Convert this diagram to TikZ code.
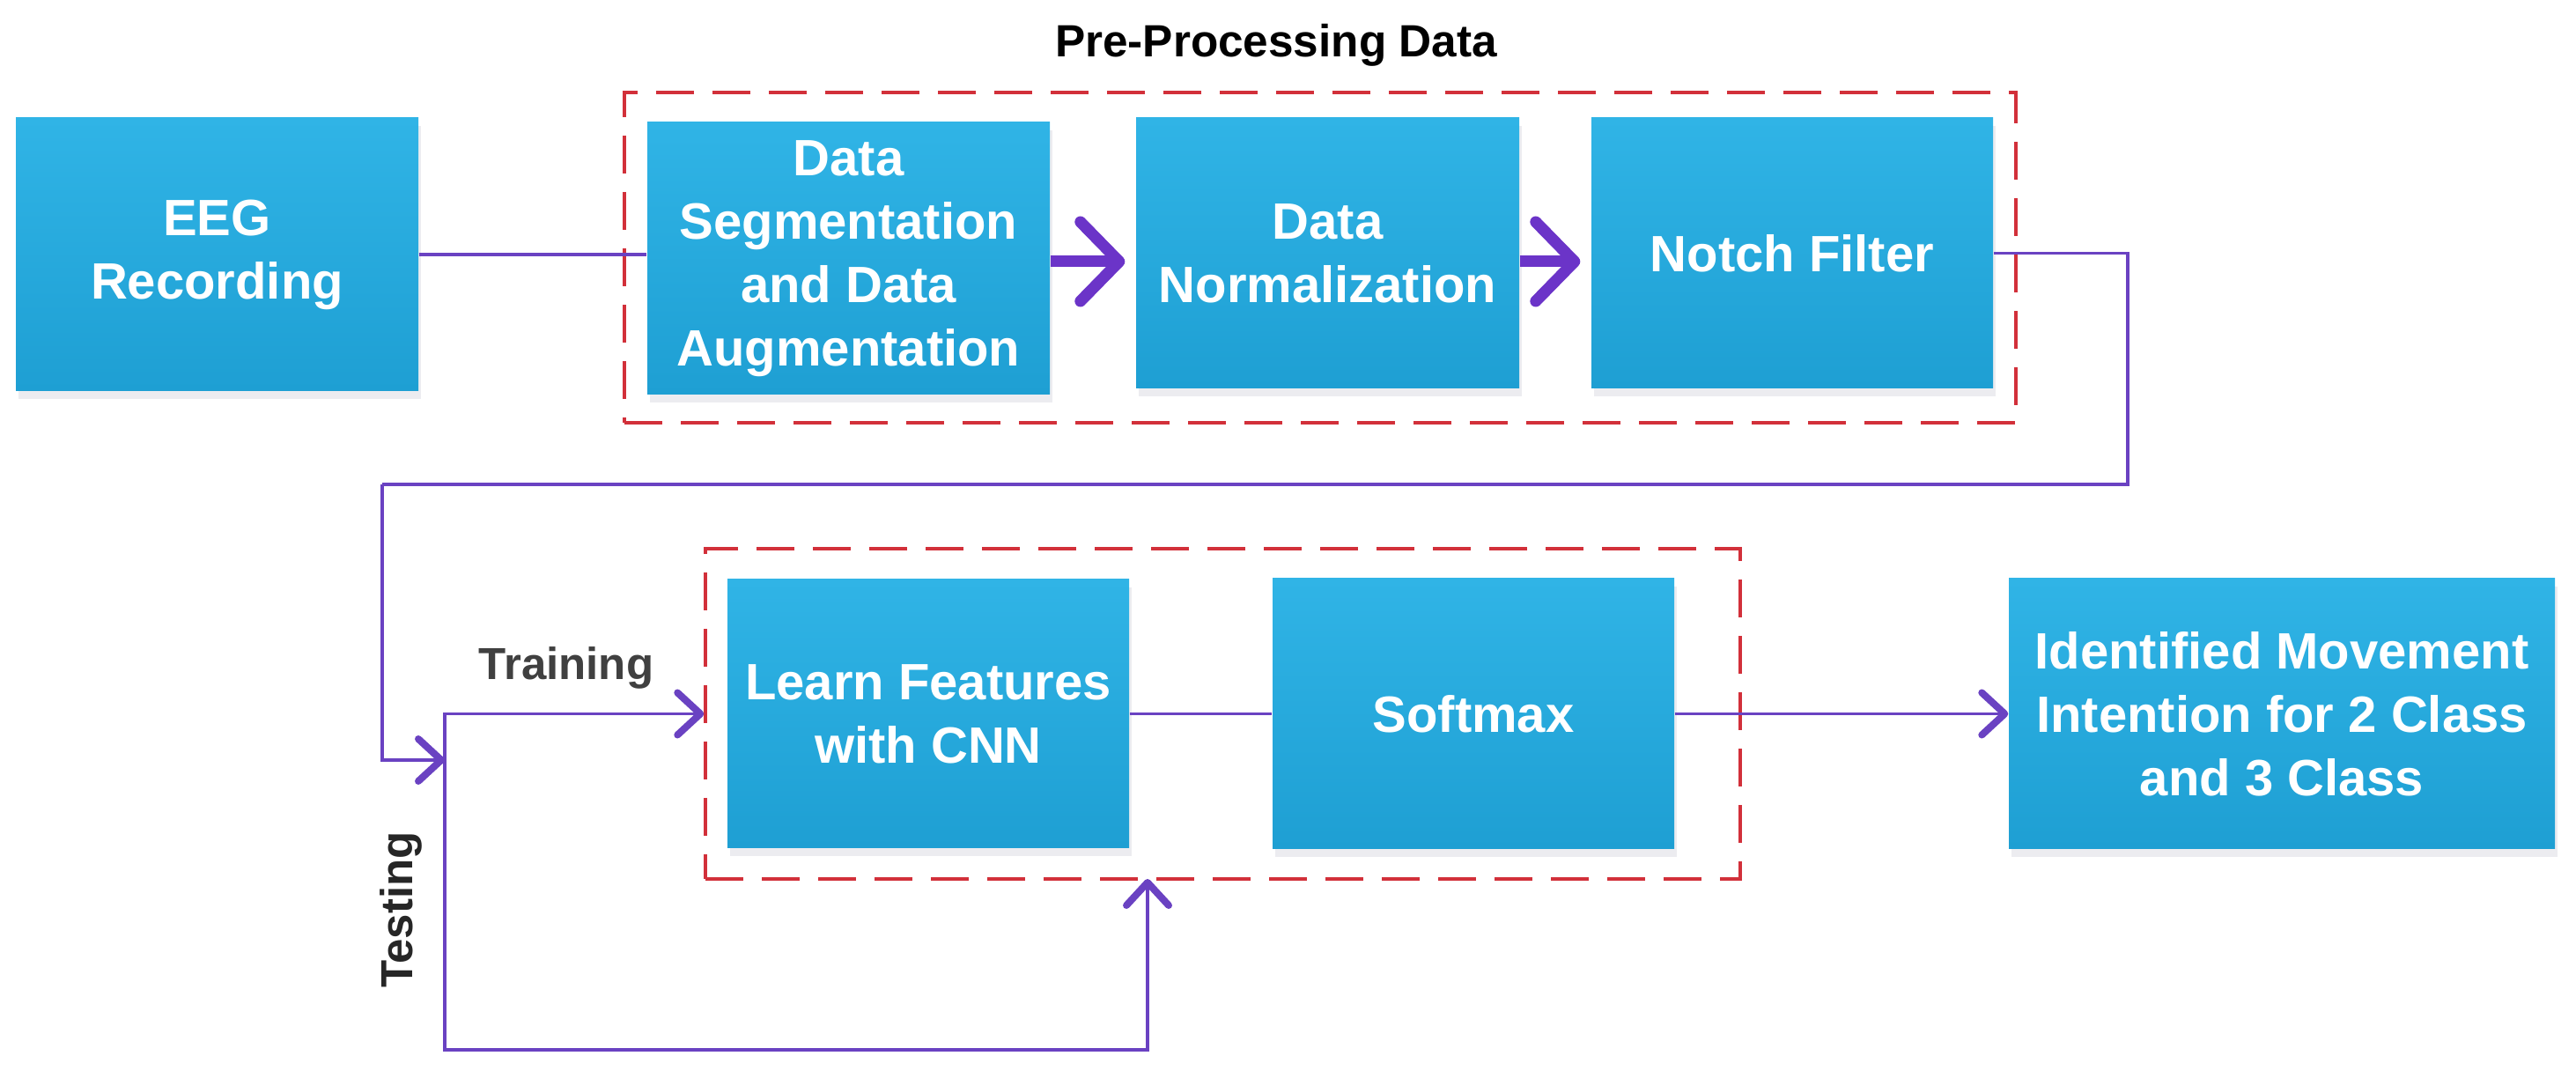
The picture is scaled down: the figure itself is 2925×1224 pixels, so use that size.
\documentclass[tikz,border=0pt]{standalone}
\usepackage{fontspec}
\setmainfont{Liberation Sans}
\usetikzlibrary{arrows.meta,shadows}
\definecolor{boxtop}{HTML}{30B4E6}
\definecolor{boxbot}{HTML}{1E9FD3}
\definecolor{lnpurple}{HTML}{6A42C2}
\definecolor{thkpurple}{HTML}{6B34C8}
\definecolor{dashred}{HTML}{D2303A}
\definecolor{lblgray}{HTML}{404040}
\begin{document}
\begin{tikzpicture}[x=0.1mm,y=-0.1mm,
  blk/.style={rectangle, inner sep=0pt, top color=boxtop, bottom color=boxbot,
    text=white, align=center, font=\bfseries\fontsize{16.5}{20.5}\selectfont,
    drop shadow={shadow xshift=0.3mm, shadow yshift=-0.9mm, opacity=0.15, fill=blue!20!black!50}},
  dashbox/.style={rectangle, inner sep=0pt, draw=dashred, line width=0.35mm,
    dash pattern=on 4.3mm off 2.1mm},
  thinln/.style={draw=lnpurple, line width=0.35mm},
  thintip/.style={thinln, -{Straight Barb[length=2.6mm, width=4.8mm, line width=0.8mm, round]}},
  thicktip/.style={draw=thkpurple, line width=1.3mm, shorten >=1.2mm,
    -{Straight Barb[length=4.4mm, width=9mm, round]}},
  lbl/.style={font=\bfseries\fontsize{14.5}{17}\selectfont, text=lblgray}
]
\useasboundingbox (0,0) rectangle (2925,1224);

% dashed group boxes
\node[dashbox, minimum width=158mm, minimum height=37.5mm] (pre) at (1499,292.5) {};
\node[dashbox, minimum width=117.5mm, minimum height=37.5mm] (cls) at (1388.5,810.5) {};

\node[font=\bfseries\fontsize{14.6}{17}\selectfont, text=black, anchor=base] (pretitle) at (1449,65) {Pre-Processing Data};

% blocks
\node[blk, minimum width=45.7mm, minimum height=31mm] (eeg) at (246.5,289) {EEG\\Recording};
\node[blk, minimum width=45.7mm, minimum height=30.9mm] (seg) at (963.5,293.5) {Data\\Segmentation\\and Data\\Augmentation};
\node[blk, minimum width=43.5mm, minimum height=30.7mm] (norm) at (1507.5,287.5) {Data\\Normalization};
\node[blk, minimum width=45.6mm, minimum height=30.7mm] (notch) at (2035,287.5) {Notch Filter};
\node[blk, minimum width=45.6mm, minimum height=30.5mm] (learn) at (1054,810.5) {Learn Features\\with CNN};
\node[blk, minimum width=45.6mm, minimum height=30.7mm] (soft) at (1673,810.5) {Softmax};
\node[blk, minimum width=62mm, minimum height=30.7mm] (ident) at (2591,810.5) {Identified Movement\\Intention for 2 Class\\and 3 Class};

% labels
\node[lbl] (training) at (643,758) {Training};
\node[lbl, text=black!85, rotate=90] (testing) at (455,1033) {Testing};

% helper coordinates
\coordinate (ya) at (0,297);
\coordinate (r1) at (2416,550);
\coordinate (l1) at (434,550);
\coordinate (j) at (505,863);
\coordinate (tb) at (505,1192);
\coordinate (tu) at (1303,998);

% connectors
\draw[thinln] (eeg.east) -- (eeg.east -| seg.west);
\draw[thicktip] (seg.east |- ya) -- (norm.west |- ya);
\draw[thicktip] (norm.east |- ya) -- (notch.west |- ya);
\draw[thinln] (notch.east) -| (r1) -- (l1);
\draw[thintip] (l1) |- (j);
\draw[thintip] (j) |- (cls.west |- learn.west);
\draw[thintip] (j) -- (tb) -| (tu);
\draw[thinln] (learn.east) -- (soft.west);
\draw[thintip] (soft.east) -- (ident.west);
\end{tikzpicture}
\end{document}
